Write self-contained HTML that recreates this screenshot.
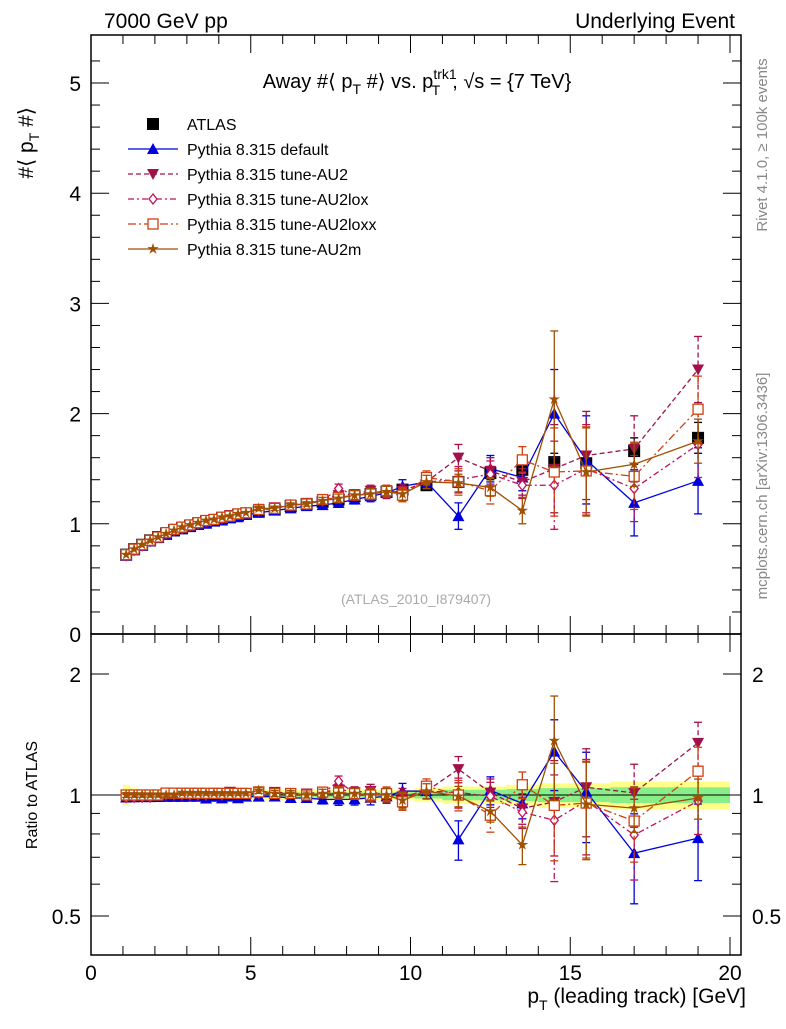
<!DOCTYPE html>
<html><head><meta charset="utf-8"><style>
body{margin:0;background:#fff}
svg{font-family:"Liberation Sans",Arial,sans-serif}
</style></head><body>
<svg id="c" width="786" height="1024" xmlns="http://www.w3.org/2000/svg"></svg>
<script>
const xs=[1.1,1.35,1.6,1.85,2.1,2.35,2.6,2.85,3.1,3.35,3.6,3.85,4.1,4.35,4.6,4.85,5.25,5.75,6.25,6.75,7.25,7.75,8.25,8.75,9.25,9.75,10.5,11.5,12.5,13.5,14.5,15.5,17,19];
const atlas=[0.72,0.77,0.81,0.85,0.88,0.91,0.94,0.96,0.98,1.0,1.02,1.03,1.05,1.06,1.08,1.09,1.11,1.13,1.16,1.18,1.2,1.22,1.25,1.27,1.29,1.31,1.35,1.38,1.46,1.49,1.56,1.55,1.66,1.78];
const atlasErr=[0.01,0.01,0.01,0.01,0.01,0.01,0.01,0.01,0.01,0.01,0.01,0.01,0.01,0.01,0.01,0.01,0.01,0.01,0.01,0.01,0.01,0.02,0.02,0.02,0.02,0.03,0.04,0.05,0.06,0.07,0.08,0.1,0.12,0.14];
const pDefault=[0.71,0.76,0.8,0.84,0.87,0.9,0.93,0.95,0.97,0.99,1.0,1.02,1.03,1.05,1.06,1.08,1.1,1.12,1.14,1.16,1.17,1.19,1.22,1.25,1.28,1.34,1.38,1.07,1.5,1.42,2.0,1.58,1.19,1.39];
const pAU2=[0.72,0.77,0.81,0.85,0.88,0.92,0.95,0.97,0.99,1.01,1.03,1.04,1.06,1.08,1.09,1.1,1.13,1.15,1.17,1.19,1.22,1.26,1.27,1.3,1.28,1.3,1.38,1.6,1.48,1.38,1.5,1.62,1.68,2.4];
const pAU2lox=[0.71,0.76,0.8,0.84,0.88,0.91,0.94,0.96,0.98,1.0,1.02,1.04,1.05,1.07,1.09,1.1,1.12,1.14,1.17,1.18,1.21,1.32,1.26,1.28,1.3,1.28,1.38,1.4,1.45,1.35,1.35,1.5,1.32,1.72];
const pAU2loxx=[0.72,0.77,0.81,0.85,0.88,0.92,0.95,0.97,0.99,1.01,1.03,1.04,1.06,1.07,1.09,1.1,1.13,1.14,1.17,1.18,1.22,1.24,1.26,1.27,1.3,1.26,1.42,1.38,1.3,1.58,1.47,1.48,1.43,2.04];
const pAU2m=[0.72,0.77,0.81,0.85,0.88,0.91,0.94,0.97,0.99,1.01,1.03,1.04,1.06,1.07,1.09,1.1,1.14,1.14,1.17,1.18,1.21,1.23,1.26,1.27,1.29,1.27,1.38,1.37,1.33,1.12,2.13,1.47,1.54,1.75];
const mErr=[0.01,0.01,0.01,0.01,0.01,0.01,0.01,0.01,0.01,0.01,0.01,0.01,0.01,0.01,0.01,0.01,0.02,0.02,0.02,0.02,0.03,0.04,0.04,0.05,0.05,0.06,0.06,0.12,0.12,0.12,0.4,0.4,0.3,0.3];
const mErrM=[0.01,0.01,0.01,0.01,0.01,0.01,0.01,0.01,0.01,0.01,0.01,0.01,0.01,0.01,0.01,0.01,0.02,0.02,0.02,0.02,0.03,0.04,0.04,0.05,0.05,0.06,0.06,0.08,0.08,0.12,0.62,0.4,0.2,0.2];
const bandY=[0.06,0.04,0.03,0.03,0.03,0.03,0.03,0.03,0.03,0.03,0.03,0.03,0.03,0.03,0.03,0.03,0.03,0.03,0.03,0.03,0.03,0.03,0.03,0.03,0.03,0.03,0.04,0.05,0.05,0.06,0.07,0.07,0.08,0.08];
const bandG=[0.02,0.02,0.015,0.015,0.015,0.015,0.015,0.015,0.015,0.015,0.015,0.015,0.015,0.015,0.015,0.015,0.015,0.015,0.015,0.015,0.015,0.015,0.015,0.015,0.015,0.015,0.02,0.03,0.03,0.035,0.04,0.04,0.045,0.045];
const yTicks=[0,1,2,3,4,5];
const xTicks=[0,5,10,15,20];
const rTicks=[0.5,1,2];

const NS='http://www.w3.org/2000/svg',svg=document.getElementById('c');
function el(t,a,p){const e=document.createElementNS(NS,t);for(const k in a)e.setAttribute(k,a[k]);(p||svg).appendChild(e);return e;}
const L=91,R=741,T=35,M=634,B=955;
const X=v=>L+(v)*(730-L)/20;
const Y=v=>634-v*110.2;
const RY=v=>795-Math.log2(v)*121;
function lo(i){return i<xs.length-1?(i==0?xs[0]-0.1:(xs[i-1]+xs[i])/2):(xs[i-1]+xs[i])/2;}
function edges(i){const a=i==0?1.0:(xs[i-1]+xs[i])/2;const b=i==xs.length-1?20:(xs[i]+xs[i+1])/2;return [a,b];}

// ratio bands
const gb=el('g',{});  
xs.forEach((x,i)=>{const [a,b]=edges(i);
 el('rect',{x:X(a),y:RY(1+bandY[i]),width:X(b)-X(a),height:RY(1-bandY[i])-RY(1+bandY[i]),fill:'#ffff88'},gb);
 el('rect',{x:X(a),y:RY(1+bandG[i]),width:X(b)-X(a),height:RY(1-bandG[i])-RY(1+bandG[i]),fill:'#88ee88'},gb);});

// frames
let f=el('rect',{x:L,y:T,width:R-L,height:M-T,fill:'none',stroke:'#000','stroke-width':1.5});

f=el('rect',{x:L,y:M,width:R-L,height:B-M,fill:'none',stroke:'#000','stroke-width':1.5});

el('line',{x1:L,x2:R,y1:RY(1),y2:RY(1),stroke:'#000','stroke-width':1});

// ticks
const tg=el('g',{stroke:'#000','stroke-width':1});
for(let v=0;v<=5.4;v+=0.2){const y=Y(v);if(y<T)break;const big=Math.abs(v-Math.round(v))<1e-6;const l=big?18:9;
 el('line',{x1:L,x2:L+l,y1:y,y2:y},tg);el('line',{x1:R,x2:R-l,y1:y,y2:y},tg);}
for(let v=0;v<=20.3;v+=1){const big=v%5==0;const l=big?18:9;
 [M,B].forEach(b=>{el('line',{x1:X(v),x2:X(v),y1:b,y2:b-l},tg);});
 el('line',{x1:X(v),x2:X(v),y1:T,y2:T+l},tg);el('line',{x1:X(v),x2:X(v),y1:M,y2:M+l},tg);}
[0.5,0.6,0.7,0.8,0.9,1,2].forEach(v=>{const l=(v==0.5||v==1||v==2)?18:9;el('line',{x1:L,x2:L+l,y1:RY(v),y2:RY(v)},tg);el('line',{x1:R,x2:R-l,y1:RY(v),y2:RY(v)},tg);});
function txt(s,a,name){const t=el('text',a);t.textContent=s;return t;}
yTicks.forEach(v=>txt(v,{x:81,y:Y(v)+8,'font-size':21,'text-anchor':'end'},'y-tick-label'));
xTicks.forEach(v=>txt(v,{x:X(v),y:980,'font-size':21,'text-anchor':'middle'},'x-tick-label'));
rTicks.forEach(v=>{txt(v,{x:81,y:RY(v)+8,'font-size':21,'text-anchor':'end'},'ratio-tick-label');txt(v,{x:752,y:RY(v)+8,'font-size':21},'ratio-tick-label-right');});

// series
const series=[
 {n:'default',v:pDefault,e:mErr,c:'#0000dd',d:'',m:'tri'},
 {n:'au2',v:pAU2,e:mErr,c:'#a0104a',d:'5,3',m:'itri'},
 {n:'au2lox',v:pAU2lox,e:mErr,c:'#c0105a',d:'6,3,2,3',m:'dia'},
 {n:'au2loxx',v:pAU2loxx,e:mErr,c:'#d04010',d:'8,3,2,3',m:'sq'},
 {n:'au2m',v:pAU2m,e:mErrM,c:'#a05000',d:'',m:'star'}];
function marker(m,x,y,c,g,s){s=s||5;
 if(m=='tri')return el('path',{d:`M${x},${y-s-1}L${x+s+1},${y+s}L${x-s-1},${y+s}Z`,fill:c},g);
 if(m=='itri')return el('path',{d:`M${x},${y+s+1}L${x+s+1},${y-s}L${x-s-1},${y-s}Z`,fill:c},g);
 if(m=='dia')return el('path',{d:`M${x},${y-s}L${x+s-1},${y}L${x},${y+s}L${x-s+1},${y}Z`,fill:'#fff',stroke:c,'stroke-width':1.3},g);
 if(m=='sq')return el('rect',{x:x-s,y:y-s,width:2*s,height:2*s,fill:'#fff',stroke:c,'stroke-width':1.3},g);
 if(m=='star'){let p='';for(let k=0;k<10;k++){const r=k%2?s*0.45:s+1,a=-Math.PI/2+k*Math.PI/5;p+=(k?'L':'M')+(x+r*Math.cos(a))+','+(y+r*Math.sin(a));}return el('path',{d:p+'Z',fill:c},g);}
 if(m=='box')return el('rect',{x:x-6,y:y-6,width:12,height:12,fill:'#000'},g);}
function drawSeries(vals,errs,c,dash,m,name,ratio){
 const g=el('g',{});
 const yf=ratio?(i,v)=>RY(v/atlas[i]):(i,v)=>Y(v);
 if(m!='box'){let p='';vals.forEach((v,i)=>p+=(i?'L':'M')+X(xs[i])+','+yf(i,v));
  el('path',{d:p,fill:'none',stroke:c,'stroke-width':1.3,'stroke-dasharray':dash},g);}
 vals.forEach((v,i)=>{const x=X(xs[i]),y1=yf(i,v+errs[i]),y2=yf(i,Math.max(v-errs[i],0.01));
  if(y2-y1>3){el('line',{x1:x,x2:x,y1:y1,y2:y2,stroke:c,'stroke-width':1.3,'stroke-dasharray':dash},g);
   el('line',{x1:x-4,x2:x+4,y1:y1,y2:y1,stroke:c,'stroke-width':1.3},g);el('line',{x1:x-4,x2:x+4,y1:y2,y2:y2,stroke:c,'stroke-width':1.3},g);}
  marker(m,x,yf(i,v),c,g);});}
drawSeries(atlas,atlasErr,'#000','','box','atlas-data',false);
series.forEach(s=>drawSeries(s.v,s.e,s.c,s.d,s.m,'series-'+s.n,false));
series.forEach(s=>drawSeries(s.v,s.e,s.c,s.d,s.m,'ratio-'+s.n,true));

// legend
const lg=el('g',{});
const names=['ATLAS','Pythia 8.315 default','Pythia 8.315 tune-AU2','Pythia 8.315 tune-AU2lox','Pythia 8.315 tune-AU2loxx','Pythia 8.315 tune-AU2m'];
names.forEach((n,i)=>{const y=124+i*25;
 if(i==0)marker('box',153,y,'#000',lg);else{const s=series[i-1];
  el('line',{x1:128,x2:178,y1:y,y2:y,stroke:s.c,'stroke-width':1.3,'stroke-dasharray':s.d},lg);marker(s.m,153,y,s.c,lg);}
 const t=el('text',{x:187,y:y+6,'font-size':16},lg);t.textContent=n;});

// texts
txt('7000 GeV pp',{x:104,y:28,'font-size':21},'header-left');
txt('Underlying Event',{x:735,y:28,'font-size':21,'text-anchor':'end'},'header-right');
const tt=txt('',{x:417,y:88,'font-size':20,'text-anchor':'middle'},'plot-title');
tt.innerHTML='Away #⟨ p<tspan font-size="14" dy="6">T</tspan><tspan dy="-6"> #⟩ vs. p</tspan><tspan font-size="14" dy="-9">trk1</tspan><tspan font-size="14" dx="-25" dy="16">T</tspan><tspan dy="-7" dx="12">, √s = {7 TeV}</tspan>';
txt('(ATLAS_2010_I879407)',{x:416,y:604,'font-size':14,fill:'#aaa','text-anchor':'middle'},'analysis-id');
const yl=txt('',{x:0,y:0,'font-size':21,'text-anchor':'end',transform:'translate(33,107) rotate(-90)'},'y-axis-title');
yl.innerHTML='#⟨ p<tspan font-size="14" dy="6">T</tspan><tspan dy="-6"> #⟩</tspan>';
txt('Ratio to ATLAS',{x:0,y:0,'font-size':16,'text-anchor':'middle',transform:'translate(37,795) rotate(-90)'},'ratio-axis-title');
const xl=txt('',{x:746,y:1003,'font-size':21,'text-anchor':'end'},'x-axis-title');
xl.innerHTML='p<tspan font-size="14" dy="7">T</tspan><tspan dy="-7"> (leading track) [GeV]</tspan>';
txt('Rivet 4.1.0, ≥ 100k events',{x:0,y:0,'font-size':15,fill:'#888','text-anchor':'middle',transform:'translate(767,145) rotate(-90)'},'rivet-label');
txt('mcplots.cern.ch [arXiv:1306.3436]',{x:0,y:0,'font-size':15,fill:'#888','text-anchor':'middle',transform:'translate(767,486) rotate(-90)'},'mcplots-label');
</script>
</body></html>
